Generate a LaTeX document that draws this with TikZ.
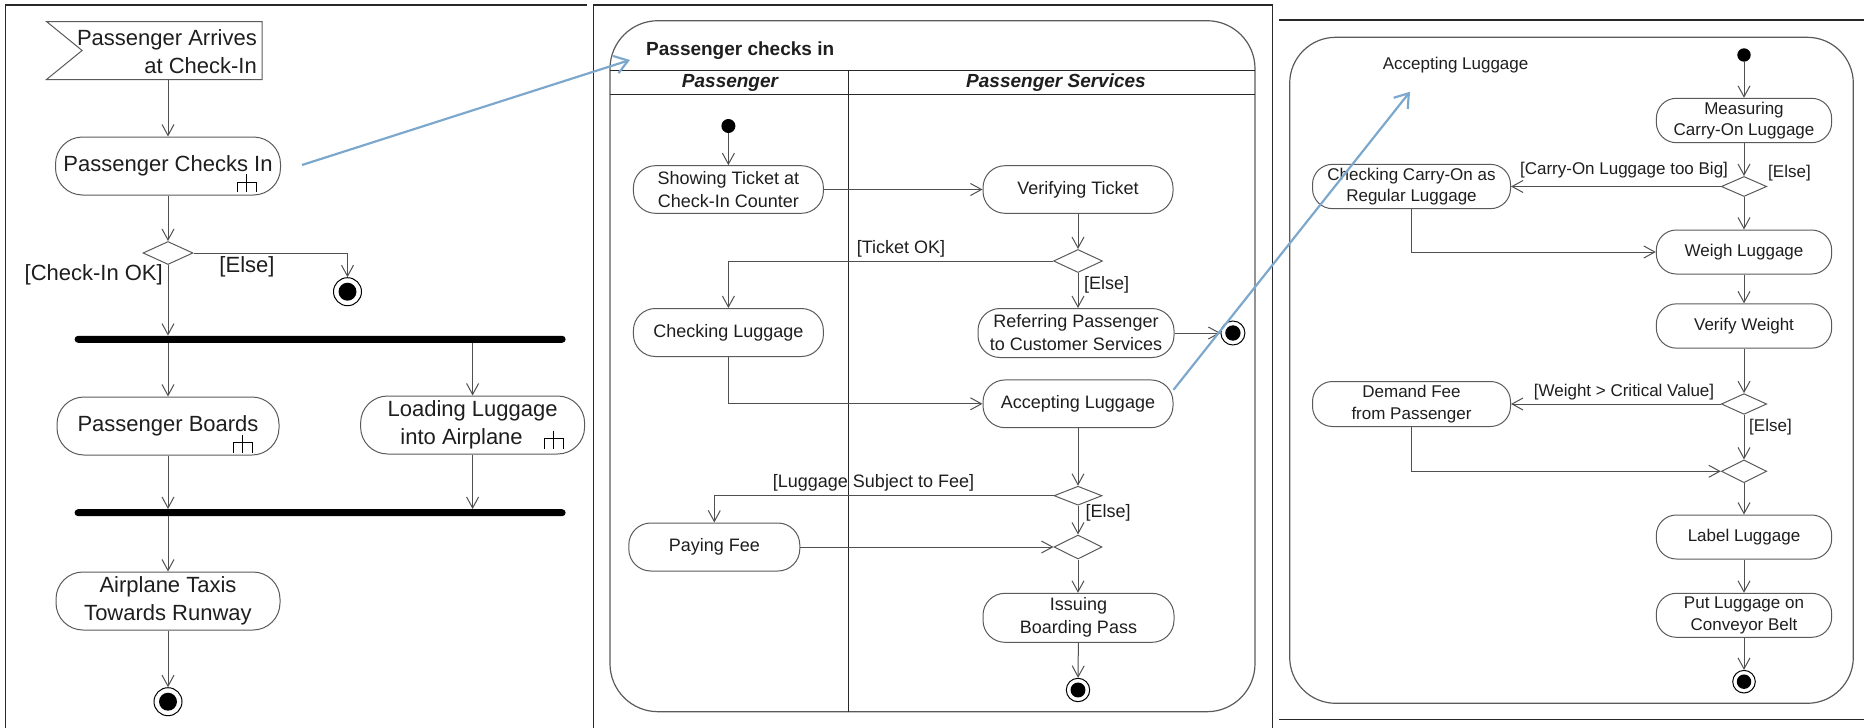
\documentclass[tikz,border=0pt]{standalone}
\usepackage{fontspec}
\setmainfont{Liberation Sans}
\usetikzlibrary{arrows.meta,shapes.geometric,calc}
\definecolor{linec}{RGB}{80,80,80}
\definecolor{nodec}{RGB}{90,90,90}
\definecolor{framec}{RGB}{40,40,40}
\definecolor{txt}{RGB}{30,30,30}
\definecolor{bluec}{RGB}{125,168,206}
\tikzset{
  arr/.style={draw=linec, line width=1pt, -{Straight Barb[length=11pt,width=12pt]}},
  frameline/.style={draw=framec, line width=1.5pt},
  bluearr/.style={draw=bluec, line width=2.2pt, -{Straight Barb[length=13pt,width=18pt]}},
  act/.style={draw=nodec, line width=1pt, align=center, inner sep=0pt, text=txt},
  actA/.style={act, rounded corners=27pt, font=\fontsize{22}{28}\selectfont},
  actB/.style={act, rounded corners=22pt, font=\fontsize{18}{23}\selectfont},
  actC/.style={act, rounded corners=20pt, font=\fontsize{17}{21.5}\selectfont},
  dec/.style={diamond, draw=nodec, line width=1pt, inner sep=0pt, minimum width=48pt, minimum height=23pt},
  initnode/.style={circle, fill=black, inner sep=0pt, minimum size=14pt},
  finalnode/.style={circle, draw=black, line width=1pt, inner sep=0pt, minimum size=#1,
    path picture={\fill[black] (path picture bounding box.center) circle ({#1*0.32});}},
  labA/.style={inner sep=0pt, text=txt, font=\fontsize{22}{28}\selectfont},
  labB/.style={inner sep=0pt, text=txt, font=\fontsize{18}{23}\selectfont},
  labC/.style={inner sep=0pt, text=txt, font=\fontsize{17}{21.5}\selectfont},
  barnode/.style={fill=black, inner sep=0pt, minimum width=491pt, minimum height=7pt, rounded corners=3.5pt},
  rake/.pic={\draw[draw=black, line width=1pt] (0,-8) -- (0,10) (-9.5,10) -- (-9.5,0) -- (9.5,0) -- (9.5,10);}
}
\begin{document}
\begin{tikzpicture}[x=1pt,y=-1pt]
\useasboundingbox (0,0) rectangle (1864,728);

% ---------- panel borders ----------
\draw[frameline] (5.7,728) -- (5.7,5) -- (586.7,5);
\draw[frameline] (593.3,728) -- (593.3,5) -- (1272.3,5) -- (1272.3,728);
\draw[frameline] (1279.3,20) -- (1864,20);
\draw[frameline] (1279.3,719.7) -- (1864,719.7);

% ================= PANEL 1 =================
\node[minimum width=215.3pt, minimum height=57.6pt, inner sep=0pt] (sig) at (154.35,50.5) {};
\draw[draw=nodec, line width=1pt] (sig.north west) -- (sig.north east) -- (sig.south east) -- (sig.south west) -- ($(sig.west)+(35.6,0)$) -- cycle;
\node[labA, anchor=east, align=right] (sigt) at (257,52) {Passenger Arrives\\at Check-In};

\node[actA, minimum width=225pt, minimum height=58pt] (chk) at (168,166) {Passenger Checks In};
\pic at ($(chk.south east)+(-34.5,-13.3)$) {rake};
\node[dec, minimum width=50pt] (d1) at (168,253) {};
\node[labA, anchor=east] (okl) at (163,275) {[Check-In OK]};
\node[labA] (el1) at (247,267) {[Else]};
\node[finalnode=28pt] (f1) at (347.5,291.7) {};
\node[barnode] (bar1) at (320.1,339.3) {};
\node[actA, minimum width=222pt, minimum height=58pt] (pb) at (168,426) {Passenger Boards};
\pic at ($(pb.south east)+(-36.8,-13)$) {rake};
\node[actA, minimum width=224pt, minimum height=58pt] (ll) at (472.6,425) {Loading Luggage\\into Airplane\hspace*{22pt}};
\pic at ($(ll.south east)+(-31.3,-16)$) {rake};
\node[barnode] (bar2) at (320.1,512.7) {};
\node[actA, minimum width=224pt, minimum height=58pt] (at) at (168,601) {Airplane Taxis\\Towards Runway};
\node[finalnode=28pt] (f2) at (168,701.7) {};

\draw[arr] (chk |- sig.south) -- (chk);
\draw[arr] (chk) -- (d1);
\draw[arr] (d1.east) -| (f1);
\draw[arr] (d1) -- (d1 |- bar1.north);
\draw[arr] (pb |- bar1.south) -- (pb);
\draw[arr] (ll |- bar1.south) -- (ll);
\draw[arr] (pb) -- (pb |- bar2.north);
\draw[arr] (ll) -- (ll |- bar2.north);
\draw[arr] (at |- bar2.south) -- (at);
\draw[arr] (at) -- (f2);

% ================= PANEL 2 =================
\draw[draw=nodec, line width=1.2pt, rounded corners=48pt] (610,20.7) rectangle (1255,711.7);
\node[inner sep=0pt, anchor=west, text=txt, font=\fontsize{19}{23}\selectfont\bfseries] (t2) at (646,50.7) {Passenger checks in};
\draw[draw=framec, line width=1pt] (610,70.7) -- (1255,70.7);
\draw[draw=framec, line width=1pt] (610,94.3) -- (1255,94.3);
\draw[draw=framec, line width=1pt] (848,70.7) -- (848,711.7);
\node[inner sep=0pt, text=txt, font=\fontsize{19}{23}\selectfont\bfseries\itshape] (h1) at (730,82.5) {Passenger};
\node[inner sep=0pt, text=txt, font=\fontsize{19}{23}\selectfont\bfseries\itshape] (h2) at (1056,82.5) {Passenger Services};

\node[initnode] (i2) at (728.4,126) {};
\node[actB, minimum width=190pt, minimum height=47.6pt] (st) at (728.4,189.5) {Showing Ticket at\\Check-In Counter};
\node[actB, minimum width=190pt, minimum height=47.6pt] (vt) at (1078,189.5) {Verifying Ticket};
\node[dec, minimum width=49pt] (d2) at (1078,261) {};
\node[labB] (tok) at (901,249.3) {[Ticket OK]};
\node[labB, anchor=west] (el2) at (1084,285) {[Else]};
\node[actB, minimum width=190pt, minimum height=48pt] (cl) at (728.4,332.5) {Checking Luggage};
\node[actB, minimum width=196pt, minimum height=49pt] (rp) at (1076,333) {Referring Passenger\\to Customer Services};
\node[finalnode=24pt] (f3) at (1232.9,333) {};
\node[actB, minimum width=190pt, minimum height=47.7pt] (al) at (1078,403.8) {Accepting Luggage};
\node[dec, minimum height=19pt] (d3) at (1078,495.7) {};
\node[labB] (lsf) at (873.5,483.3) {[Luggage Subject to Fee]};
\node[labB, anchor=west] (el3) at (1085.5,513.3) {[Else]};
\node[actB, minimum width=171pt, minimum height=48pt] (pf) at (714.3,547) {Paying Fee};
\node[dec, minimum height=24pt] (m1) at (1078,547) {};
\node[actB, minimum width=191pt, minimum height=49pt] (ib) at (1078.5,617.8) {Issuing\\Boarding Pass};
\node[finalnode=23.4pt] (f4) at (1078,690) {};

\draw[arr] (i2) -- (st);
\draw[arr] (st) -- (vt);
\draw[arr] (vt) -- (d2);
\draw[arr] (d2.west) -| (cl);
\draw[arr] (d2) -- (d2 |- rp.north);
\draw[arr] (rp) -- (f3);
\draw[arr] (cl) |- (al);
\draw[arr] (al) -- (d3);
\draw[arr] (d3.west) -| (pf);
\draw[arr] (d3) -- (m1);
\draw[arr] (pf) -- (m1);
\draw[arr] (m1) -- (m1 |- ib.north);
\draw[arr] (ib) -- (f4);

% ================= PANEL 3 =================
\draw[draw=nodec, line width=1.2pt, rounded corners=46pt] (1289.7,37.3) rectangle (1853.3,703.3);
\node[labC] (t3) at (1455.6,65) {Accepting Luggage};
\node[initnode, minimum size=13.4pt] (i3) at (1744,55) {};
\node[actC, minimum width=175.3pt, minimum height=44.4pt] (mc) at (1744,120.5) {Measuring\\Carry-On Luggage};
\node[dec, minimum width=45.4pt, minimum height=20pt] (d4) at (1744,186.5) {};
\node[labC] (big) at (1624,170) {[Carry-On Luggage too Big]};
\node[labC, anchor=west] (el4) at (1768,173.3) {[Else]};
\node[actC, minimum width=198pt, minimum height=44.3pt] (cc) at (1411.5,186.5) {Checking Carry-On as\\Regular Luggage};
\node[actC, minimum width=175.3pt, minimum height=44pt] (wl) at (1744,252) {Weigh Luggage};
\node[actC, minimum width=175.3pt, minimum height=44.3pt] (vw) at (1744,326) {Verify Weight};
\node[dec, minimum width=45.4pt, minimum height=20.7pt] (d5) at (1744,404) {};
\node[labC] (wcv) at (1624,391.7) {[Weight > Critical Value]};
\node[labC, anchor=west] (el5) at (1749,426.7) {[Else]};
\node[actC, minimum width=198pt, minimum height=45pt] (df) at (1411.5,404) {Demand Fee\\from Passenger};
\node[dec, minimum width=45.4pt, minimum height=22.7pt] (m2) at (1744,471.3) {};
\node[actC, minimum width=175.3pt, minimum height=44pt] (lab) at (1744,537) {Label Luggage};
\node[actC, minimum width=175.3pt, minimum height=44pt] (pl) at (1744,615.3) {Put Luggage on\\Conveyor Belt};
\node[finalnode=22.6pt] (f5) at (1744,681.7) {};

\draw[arr] (i3) -- (mc);
\draw[arr] (mc) -- (d4);
\draw[arr] (d4.west) -- (cc);
\draw[arr] (d4) -- (wl);
\draw[arr] (cc) |- (wl);
\draw[arr] (wl) -- (vw);
\draw[arr] (vw) -- (d5);
\draw[arr] (d5.west) -- (df);
\draw[arr] (d5) -- (m2);
\draw[arr] (df) |- (m2);
\draw[arr] (m2) -- (lab);
\draw[arr] (lab) -- (pl);
\draw[arr] (pl) -- (f5);

% ================= blue links =================
\coordinate (b1e) at (630,60);
\coordinate (b2e) at (1410,91.7);
\draw[bluearr] ($(chk.east)+(21,-1)$) -- (b1e);
\draw[bluearr] ($(al.east)+(0,-14)$) -- (b2e);
\end{tikzpicture}
\end{document}
